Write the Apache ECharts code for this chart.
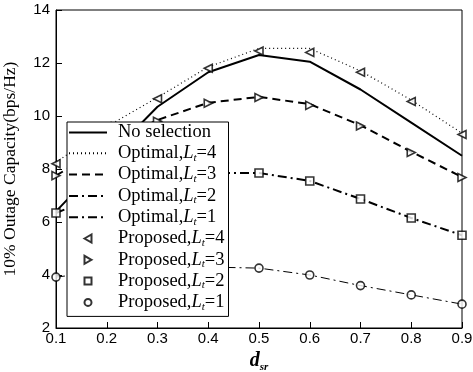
<!DOCTYPE html>
<html>
<head>
<meta charset="utf-8">
<script src="https://cdn.jsdelivr.net/npm/echarts@6/dist/echarts.min.js"></script>
<style>
  html, body { margin: 0; padding: 0; background: #fff; }
  #chart { width: 473px; height: 372px; }
</style>
</head>
<body>
<div id="chart"></div>
<script>
// Relay distance d_sr (x axis categories)
const distances = ['0.1', '0.2', '0.3', '0.4', '0.5', '0.6', '0.7', '0.8', '0.9'];
const yTicks = [2, 4, 6, 8, 10, 12, 14];

// 10% outage capacity (bps/Hz)
const noSelection = [6.4, 8.4, 10.35, 11.65, 12.3, 12.05, 11.0, 9.75, 8.5];
const optimalL4 = [8.25, 9.6, 10.7, 11.85, 12.55, 12.55, 11.7, 10.6, 9.35];
const optimalL3 = [7.75, 8.9, 9.85, 10.5, 10.72, 10.45, 9.65, 8.65, 7.7];
const optimalL2 = [6.34, 7.1, 7.6, 7.85, 7.85, 7.55, 6.87, 6.15, 5.5];
const optimalL1 = [3.92, 4.15, 4.27, 4.3, 4.26, 4.0, 3.6, 3.25, 2.9];
const proposedL4 = [8.2, 9.6, 10.65, 11.8, 12.45, 12.4, 11.65, 10.55, 9.3];
const proposedL3 = [7.75, 8.9, 9.8, 10.48, 10.7, 10.4, 9.62, 8.62, 7.68];
const proposedL2 = [6.34, 7.1, 7.6, 7.85, 7.85, 7.55, 6.87, 6.15, 5.5];
const proposedL1 = [3.92, 4.15, 4.27, 4.3, 4.26, 4.0, 3.6, 3.25, 2.9];

const serif = '"Liberation Serif", "Times New Roman", serif';
const sans = '"Liberation Sans", Arial, sans-serif';

// Legend marker icons: the extra move-to points widen the icon's box so
// the drawn shape stays small and centred inside the 12px-high slot.
const pad = 'M0,0M12,12';
const legendIcons = {
  left: 'path://' + pad + 'M2.5,6L9.5,2L9.5,10Z',
  right: 'path://' + pad + 'M9.5,6L2.5,2L2.5,10Z',
  square: 'path://' + pad + 'M2.5,2.5L9.5,2.5L9.5,9.5L2.5,9.5Z',
  circle: 'path://' + pad + 'M9.5,6A3.5,3.5,0,1,1,2.5,6A3.5,3.5,0,1,1,9.5,6Z'
};

function lineSeries(name, data, type, width) {
  return {
    name, type: 'line', data, symbol: 'none',
    lineStyle: { color: '#000', width, type },
    itemStyle: { color: '#000' },
    z: 2
  };
}
function markerSeries(name, data, symbol, rotate) {
  return {
    name, type: 'scatter', data, symbol, symbolSize: 8, symbolRotate: rotate,
    itemStyle: { color: '#fff', borderColor: '#000', borderWidth: 1.6 },
    z: 3
  };
}

const hidden = { color: 'rgba(0,0,0,0)', borderColor: 'rgba(0,0,0,0)', borderWidth: 0 };

const chart = echarts.init(document.getElementById('chart'), null, { renderer: 'canvas' });

chart.setOption({
  animation: false,
  backgroundColor: '#fff',
  grid: {
    left: 56, right: 11, top: 10, bottom: 44, outerBoundsMode: 'none',
    show: true, borderColor: '#000', borderWidth: 1, backgroundColor: 'transparent'
  },
  xAxis: {
    type: 'category', data: distances, boundaryGap: false,
    axisLine: { lineStyle: { color: '#000', width: 1 } },
    axisTick: { inside: true, length: 6, lineStyle: { color: '#000' } },
    axisLabel: { color: '#000', fontFamily: sans, fontSize: 15, margin: 3 },
    name: '{d|d}{s|sr}', nameLocation: 'middle', nameGap: 14,
    nameTextStyle: {
      rich: {
        d: { fontFamily: serif, fontStyle: 'italic', fontWeight: 'bold', fontSize: 20, color: '#000' },
        s: { fontFamily: serif, fontStyle: 'italic', fontWeight: 'bold', fontSize: 11, color: '#000', verticalAlign: 'bottom', padding: [13, 0, 0, 0] }
      }
    },
    splitLine: { show: false }
  },
  yAxis: {
    type: 'value', min: yTicks[0], max: yTicks[yTicks.length - 1], interval: 2,
    axisLine: { show: true, lineStyle: { color: '#000', width: 1 } },
    axisTick: { show: true, inside: true, length: 6, lineStyle: { color: '#000' } },
    axisLabel: { color: '#000', fontFamily: sans, fontSize: 15, margin: 6 },
    splitLine: { show: false },
    name: '10% Outage Capacity(bps/Hz)', nameLocation: 'middle', nameGap: 37, nameRotate: 90,
    nameTextStyle: { fontFamily: serif, fontSize: 17.5, color: '#000' }
  },
  legend: {
    orient: 'vertical', left: 67, top: 122,
    backgroundColor: '#fff', borderColor: '#000', borderWidth: 1,
    padding: [1, 4, 4, 1], itemGap: 1.8, itemWidth: 38, itemHeight: 12,
    textStyle: {
      fontFamily: serif, fontSize: 18.5, color: '#000', padding: [0, 0, 0, 6],
      rich: {
        n: { fontFamily: serif, fontSize: 18.5, lineHeight: 20, color: '#000' },
        i: { fontFamily: serif, fontSize: 18.5, lineHeight: 20, color: '#000', fontStyle: 'italic' },
        s: { fontFamily: serif, fontSize: 11, lineHeight: 12, color: '#000', fontStyle: 'italic', verticalAlign: 'bottom', padding: [8, 0, 0, 0] }
      }
    },
    formatter: function (name) {
      const m = name.match(/^(.*),L_t=(\d)$/);
      if (!m) return '{n|' + name + '}';
      return '{n|' + m[1] + ',}{i|L}{s|t}{n|=' + m[2] + '}';
    },
    data: [
      { name: 'No selection', itemStyle: hidden },
      { name: 'Optimal,L_t=4', itemStyle: hidden },
      { name: 'Optimal,L_t=3', itemStyle: hidden },
      { name: 'Optimal,L_t=2', itemStyle: hidden },
      { name: 'Optimal,L_t=1', itemStyle: hidden },
      { name: 'Proposed,L_t=4', icon: legendIcons.left },
      { name: 'Proposed,L_t=3', icon: legendIcons.right },
      { name: 'Proposed,L_t=2', icon: legendIcons.square },
      { name: 'Proposed,L_t=1', icon: legendIcons.circle }
    ]
  },
  series: [
    lineSeries('No selection', noSelection, 'solid', 2),
    lineSeries('Optimal,L_t=4', optimalL4, [1, 3], 1.2),
    lineSeries('Optimal,L_t=3', optimalL3, [8, 5], 2),
    lineSeries('Optimal,L_t=2', optimalL2, [9, 4, 2, 4], 2),
    lineSeries('Optimal,L_t=1', optimalL1, [9, 4, 2, 4], 1),
    markerSeries('Proposed,L_t=4', proposedL4, 'triangle', 90),
    markerSeries('Proposed,L_t=3', proposedL3, 'triangle', -90),
    markerSeries('Proposed,L_t=2', proposedL2, 'rect', 0),
    markerSeries('Proposed,L_t=1', proposedL1, 'circle', 0)
  ]
});
</script>
</body>
</html>
